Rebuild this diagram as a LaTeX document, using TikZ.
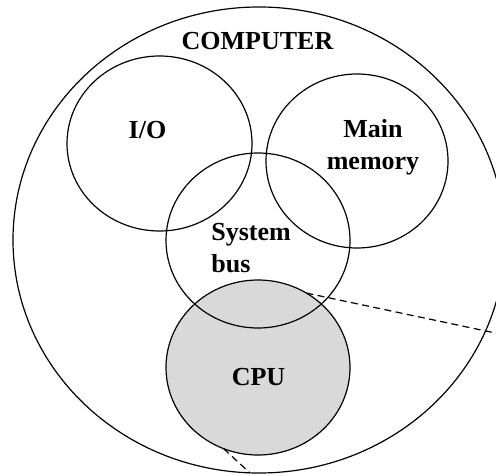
\documentclass[tikz,border=0pt]{standalone}
\usepackage{fontspec}
\setmainfont{Liberation Serif}
\usetikzlibrary{shapes.geometric}
\definecolor{cpugray}{RGB}{217,217,217}
\begin{document}
\begin{tikzpicture}[x=0.5pt,y=-0.5pt,
  ring/.style={ellipse, draw, line width=0.6pt, inner sep=0pt, outer sep=0pt},
  lbl/.style={font=\bfseries\fontsize{13}{16}\selectfont, inner sep=0pt},
  zoomline/.style={line width=0.6pt, dash pattern=on 3.5pt off 2.2pt}]
  \useasboundingbox (0,0) rectangle (496,475);
  \clip (0,0) rectangle (496,475);

  % outer system boundary
  \node[ring, minimum width=246pt, minimum height=233pt] (computer) at (259,240) {};

  % CPU is shaded; drawn first so the bus outline stays on top
  \node[ring, fill=cpugray, minimum width=92pt, minimum height=87.5pt] (cpu) at (258,367.5) {};
  \node[ring, minimum width=92.5pt, minimum height=87.5pt] (io) at (159.5,143.5) {};
  \node[ring, minimum width=91pt, minimum height=87pt] (mem) at (357,161) {};
  \node[ring, minimum width=92pt, minimum height=87.5pt] (bus) at (258,240.5) {};

  % labels
  \node[lbl] (tcomputer) at (257.5,41) {COMPUTER};
  \node[lbl] (tio) at (147.5,130) {I/O};
  \node[lbl, align=center] (tmem) at (373,147.5) {Main\\memory};
  \node[lbl, align=left, anchor=north west] (tbus) at (211,223) {System\\bus};
  \node[lbl] (tcpu) at (258.5,377.5) {CPU};

  % dashed lines leading out of the CPU
  \coordinate (zoomA) at (500,334);
  \coordinate (zoomB) at (250,473);
  \draw[zoomline] (cpu.57.7) -- (zoomA);
  \draw[zoomline] (cpu.247.7) -- (zoomB);
\end{tikzpicture}
\end{document}
